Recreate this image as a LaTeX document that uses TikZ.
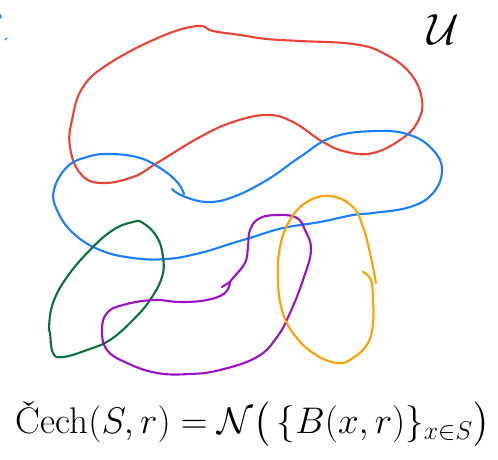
\documentclass[tikz,border=0pt]{standalone}
\usepackage{amsmath}
\definecolor{setRed}{HTML}{EA4335}
\definecolor{setBlue}{HTML}{1A7FFF}
\definecolor{setGreen}{HTML}{0B7040}
\definecolor{setPurple}{HTML}{9A12C8}
\definecolor{setOrange}{HTML}{FFA000}

\begin{document}
\begin{tikzpicture}[
  x=0.02cm, y=-0.02cm,
  lp/.style={line width=1.2pt,line cap=round,line join=round},
  redset/.style={lp,draw=setRed},
  blueset/.style={lp,draw=setBlue},
  greenset/.style={lp,draw=setGreen},
  purpleset/.style={lp,draw=setPurple},
  orangeset/.style={lp,draw=setOrange},
  lbl/.style={font=\Huge},
]
\useasboundingbox (0,0) rectangle (498,460);

% ---- stray marks at the left margin -----------------------------------
\draw[blueset,line width=0.8pt] (0.5,15) -- (1,18);
\draw[blueset,line width=0.8pt] (5,40) -- (7,38);

% ---- the open sets ----------------------------------------------------
% red
\draw[redset] plot[smooth cycle,tension=0.7] coordinates {
  (213,31) (240,35) (267,39) (300,41) (353,44) (383,53) (410,73)
  (422,100) (417,123) (400,140) (373,153) (347,152) (323,142)
  (293,122) (267,115) (233,122) (200,137) (157,163) (133,177)
  (100,183) (80,173) (70,147) (72,120) (83,87) (110,63) (160,37)
  (197,26)};

% blue
\draw[blueset] plot[smooth,tension=0.7] coordinates {
  (172,189) (183,196) (207,202) (233,197) (267,180) (300,157)
  (333,137) (377,131) (410,135) (433,150) (442,170) (433,193)
  (410,207) (373,213) (353,215) (320,222) (283,228) (253,237)
  (233,243) (200,253) (167,259) (133,258) (100,250) (73,233)
  (57,210) (54,190) (67,167) (87,157) (110,154) (140,158)
  (163,170) (178,183) (184,194)};

% green
\draw[greenset] plot[smooth cycle,tension=0.7] coordinates {
  (50,333) (53,353) (63,357) (87,350) (110,340) (133,320) (150,300)
  (162,277) (163,257) (157,237) (143,223) (133,222) (113,230)
  (90,250) (67,277) (53,303) (49,327)};

% purple
\draw[purpleset] plot[smooth,tension=0.7] coordinates {
  (230,282) (225,293) (207,300) (180,302) (153,300) (123,305)
  (107,313) (102,330) (107,350) (127,363) (157,373) (190,374)
  (220,370) (257,357) (277,337) (290,313) (303,280) (311,250)
  (305,230) (297,218) (280,215) (260,218) (250,230) (248,247)
  (245,263) (233,278) (229,283)};
\draw[purpleset] (222,287) -- (230,282);

% orange
\draw[orangeset] plot[smooth,tension=0.7] coordinates {
  (363,272) (371,280) (373,300) (373,323) (368,343) (353,358)
  (337,363) (313,353) (293,333) (282,310) (278,280) (280,247)
  (290,220) (307,202) (330,196) (353,207) (363,227) (370,253)
  (376,283)};

% ---- labels -----------------------------------------------------------
\node[lbl] (univ) at (443,30) {$\mathcal{U}$};
\node[font=\LARGE,scale=1.22] (cech) at (253,424)
  {$\text{Čech}(S,r)=\mathcal{N}\big(\,\{B(x,r)\}_{x\in S}\big)$};

\end{tikzpicture}
\end{document}
